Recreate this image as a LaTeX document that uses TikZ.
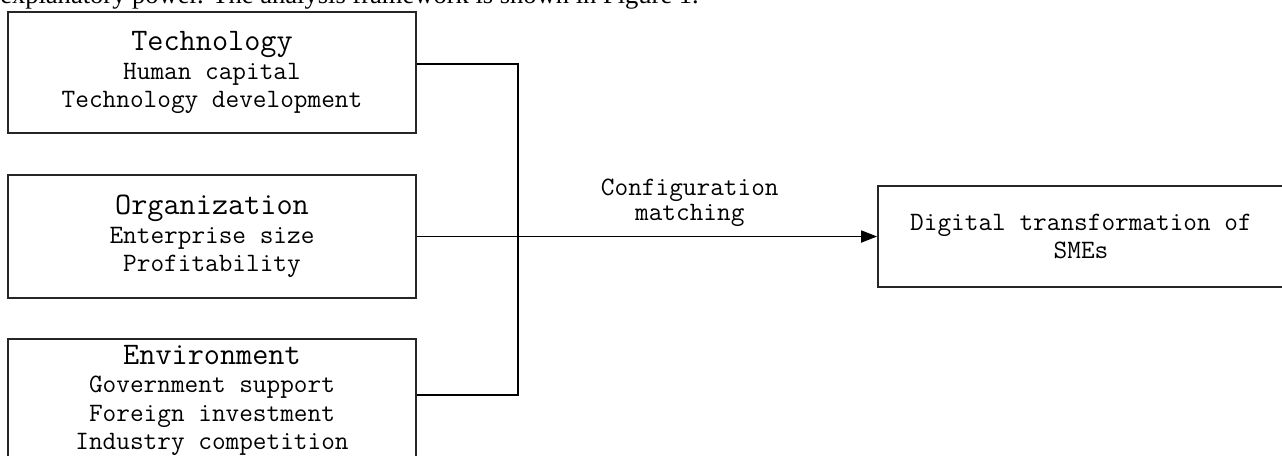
\documentclass[tikz,border=0pt]{standalone}
\usepackage{fontspec}
\setmainfont{Liberation Serif}
\usetikzlibrary{arrows.meta}
\begin{document}
\begin{tikzpicture}[x=0.75pt,y=-0.75pt,
  box/.style={draw=black!85, line width=1.3pt, align=center, inner sep=0pt,
    font=\ttfamily\fontsize{19.9}{21.4}\selectfont},
  conn/.style={draw=black, line width=1.3pt},
  lbl/.style={align=center, inner sep=0pt, font=\ttfamily\fontsize{19.9}{18.75}\selectfont}]
\useasboundingbox (0,0) rectangle (1282,455);
\clip (0,0) rectangle (1282,455);
\fill[white] (0,0) rectangle (1282,455);
\node[anchor=base west, inner sep=0pt, font=\fontsize{19.9}{24}\selectfont] (intro) at (0,3.5)
  {explanatory power. The analysis framework is shown in Figure 1.};
\node[box, minimum width=306pt, minimum height=90.75pt] (tech) at (212,72.5)
  {{\fontsize{23.5}{21.4}\selectfont Technology}\\Human capital\\Technology development};
\node[box, minimum width=306pt, minimum height=92.25pt] (org) at (212,236.5)
  {{\fontsize{23.5}{21.4}\selectfont Organization}\\Enterprise size\\Profitability};
\node[box, minimum width=306pt, minimum height=92.25pt] (env) at (212,400.5)
  {{\fontsize{23.5}{21.4}\selectfont Environment}\\Government support\\Foreign investment\\Industry competition};
\node[box, minimum width=304.5pt, minimum height=75.75pt] (dt) at (1081,236.5)
  {Digital transformation of\\SMEs};
\draw[conn] ([yshift=6.4pt]tech.east) -- ++(101,0) coordinate (jn) |- ([yshift=4.1pt]env.east);
\draw[conn, -{Triangle[length=12pt,width=9pt]}] (org.east) --
  node[lbl, pos=0.593, yshift=25.5pt] (cfg) {Configuration\\matching} (dt.west);
\end{tikzpicture}
\end{document}
